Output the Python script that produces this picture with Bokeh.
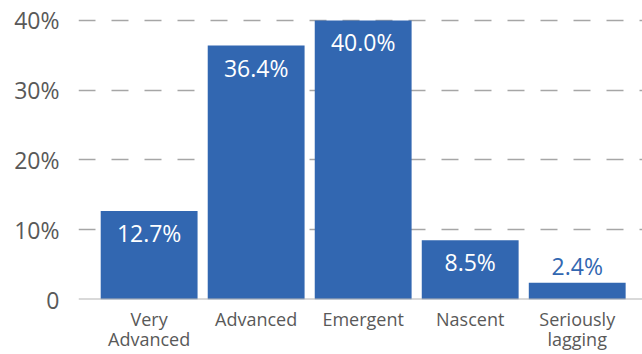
from bokeh.plotting import figure
from bokeh.models import Range1d, FixedTicker, Span, ColumnDataSource
from bokeh.embed import file_html
from bokeh.resources import INLINE
from bokeh.core.properties import value

categories = ["Very\nAdvanced", "Advanced", "Emergent", "Nascent", "Seriously\nlagging"]
shares = [12.7, 36.4, 40.0, 8.5, 2.4]
y_ticks = [0, 10, 20, 30, 40]
y_tick_labels = ["0", "10%", "20%", "30%", "40%"]

FONT = "Open Sans"
BLUE = "#3267b1"
GREY = "#595959"

xs = list(range(len(categories)))
labels = [f"{v:.1f}%" for v in shares]
inside = [v >= 5 for v in shares]

p = figure(width=642, height=354, output_backend="svg", toolbar_location=None,
           x_range=Range1d(-0.66, 4.61), y_range=Range1d(0, 40.7),
           min_border_left=78, min_border_right=0, min_border_top=15, min_border_bottom=54)
p.outline_line_color = None
p.background_fill_color = "white"
p.border_fill_color = "white"

p.xgrid.grid_line_color = None
p.ygrid.ticker = FixedTicker(ticks=y_ticks)
p.ygrid.grid_line_color = "#a6a6a6"
p.ygrid.grid_line_width = 1.5
p.ygrid.grid_line_dash = "17 16"

p.vbar(x=xs, top=shares, width=0.905, color=BLUE, line_color=None)

p.add_layout(Span(location=0, dimension="width", line_color="#b3b3b3", line_width=2))

src_in = ColumnDataSource(dict(x=[x for x, i in zip(xs, inside) if i],
                               y=[v for v, i in zip(shares, inside) if i],
                               t=[l for l, i in zip(labels, inside) if i]))
src_out = ColumnDataSource(dict(x=[x for x, i in zip(xs, inside) if not i],
                                y=[v for v, i in zip(shares, inside) if not i],
                                t=[l for l, i in zip(labels, inside) if not i]))
p.text(x="x", y="y", text="t", source=src_in, y_offset=22, text_color="white",
       text_align="center", text_baseline="middle", text_font=value(FONT), text_font_size="23px")
p.text(x="x", y="y", text="t", source=src_out, y_offset=-17, text_color=BLUE,
       text_align="center", text_baseline="middle", text_font=value(FONT), text_font_size="23px")

p.yaxis.ticker = FixedTicker(ticks=y_ticks)
p.yaxis.major_label_overrides = {t: l for t, l in zip(y_ticks, y_tick_labels)}
p.yaxis.axis_line_color = None
p.yaxis.major_tick_line_color = None
p.yaxis.minor_tick_line_color = None
p.yaxis.major_label_text_font = FONT
p.yaxis.major_label_text_font_size = "23px"
p.yaxis.major_label_text_color = GREY
p.yaxis.major_label_standoff = 13

p.xaxis.ticker = FixedTicker(ticks=xs)
p.xaxis.major_label_overrides = {x: c for x, c in zip(xs, categories)}
p.xaxis.axis_line_color = None
p.xaxis.major_tick_line_color = None
p.xaxis.minor_tick_line_color = None
p.xaxis.major_label_text_font = FONT
p.xaxis.major_label_text_font_size = "18px"
p.xaxis.major_label_text_color = GREY
p.xaxis.major_label_standoff = 1
p.xaxis.major_label_text_line_height = 0.86

open("out.html", "w").write(file_html(p, INLINE))
